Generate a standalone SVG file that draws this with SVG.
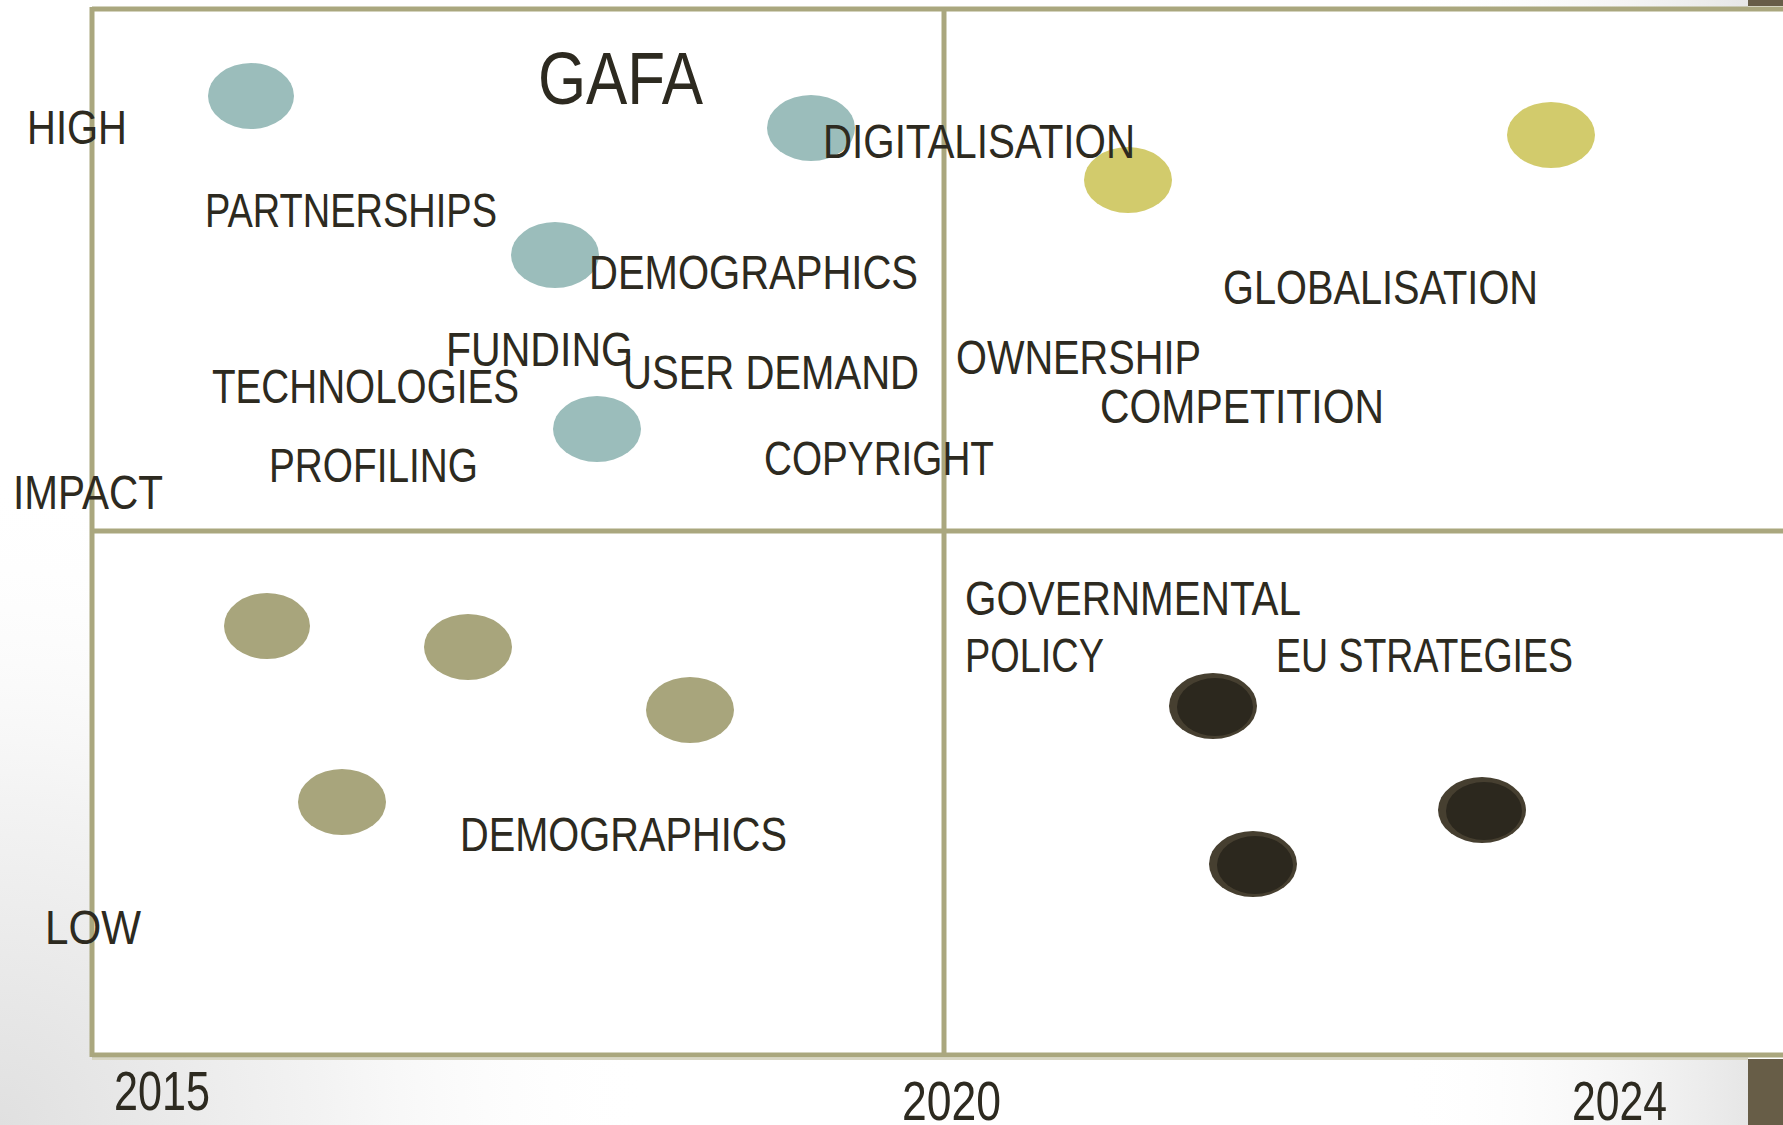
<svg xmlns="http://www.w3.org/2000/svg" width="1783" height="1125" viewBox="0 0 1783 1125">
  <defs>
    <radialGradient id="bgLeft" cx="0" cy="1125" r="650" gradientUnits="userSpaceOnUse">
      <stop offset="0" stop-color="#e0e0e0"/>
      <stop offset="0.5" stop-color="#f3f3f3"/>
      <stop offset="1" stop-color="#ffffff" stop-opacity="0"/>
    </radialGradient>
    <linearGradient id="bgRight" x1="1400" y1="0" x2="1748" y2="0" gradientUnits="userSpaceOnUse">
      <stop offset="0" stop-color="#ffffff" stop-opacity="0"/>
      <stop offset="1" stop-color="#e6e6e6"/>
    </linearGradient>
    <style>
      .lbl { font-family: "Liberation Sans", Arial, sans-serif; font-size: 48px; fill: #2d2a20; }
      .yr { font-family: "Liberation Sans", Arial, sans-serif; font-size: 56px; fill: #2d2a20; }
      .grid { stroke: #aaa77e; stroke-width: 5; fill: none; }
      .teal { fill: #9bbdbb; }
      .yel { fill: #d2cb6c; }
      .kha { fill: #a8a57c; }
      .dkO { fill: #463f30; }
      .dkI { fill: #2c281e; }
    </style>
  </defs>

  <g id="background">
    <rect x="0" y="0" width="1783" height="1125" fill="#ffffff"/>
    <rect x="0" y="0" width="1783" height="1125" fill="url(#bgLeft)"/>
    <rect x="1400" y="0" width="348" height="1125" fill="url(#bgRight)"/>
    <rect x="92" y="9" width="1691" height="1045" fill="#ffffff"/>
    <rect x="1748" y="0" width="35" height="6" fill="#675d47"/>
    <rect x="1748" y="1059" width="35" height="66" fill="#675d47"/>
  </g>

  <g id="grid">
    <line class="grid" x1="92" y1="9" x2="1783" y2="9"/>
    <line class="grid" x1="92" y1="7" x2="92" y2="1057"/>
    <line class="grid" x1="92" y1="1055" x2="1783" y2="1055"/>
    <line class="grid" x1="944" y1="9" x2="944" y2="1055"/>
    <line class="grid" x1="92" y1="531" x2="1783" y2="531"/>
    <line x1="92" y1="1059" x2="1748" y2="1059" stroke="#d8d6c4" stroke-width="2"/>
  </g>

  <g id="connectors"></g>

  <g id="dots">
    <g id="dot-teal-1"><ellipse class="teal" cx="251" cy="96" rx="43" ry="33"/></g>
    <g id="dot-teal-2"><ellipse class="teal" cx="811" cy="128" rx="44" ry="33"/></g>
    <g id="dot-teal-3"><ellipse class="teal" cx="555" cy="255" rx="44" ry="33"/></g>
    <g id="dot-teal-4"><ellipse class="teal" cx="597" cy="429" rx="44" ry="33"/></g>
    <g id="dot-yellow-1"><ellipse class="yel" cx="1128" cy="180" rx="44" ry="33"/></g>
    <g id="dot-yellow-2"><ellipse class="yel" cx="1551" cy="135" rx="44" ry="33"/></g>
    <g id="dot-khaki-1"><ellipse class="kha" cx="267" cy="626" rx="43" ry="33"/></g>
    <g id="dot-khaki-2"><ellipse class="kha" cx="468" cy="647" rx="44" ry="33"/></g>
    <g id="dot-khaki-3"><ellipse class="kha" cx="690" cy="710" rx="44" ry="33"/></g>
    <g id="dot-khaki-4"><ellipse class="kha" cx="342" cy="802" rx="44" ry="33"/></g>
    <g id="dot-dark-1"><ellipse class="dkO" cx="1213" cy="706" rx="44" ry="33"/><ellipse class="dkI" cx="1215" cy="707" rx="38" ry="29"/></g>
    <g id="dot-dark-2"><ellipse class="dkO" cx="1482" cy="810" rx="44" ry="33"/><ellipse class="dkI" cx="1484" cy="811" rx="38" ry="29"/></g>
    <g id="dot-dark-3"><ellipse class="dkO" cx="1253" cy="864" rx="44" ry="33"/><ellipse class="dkI" cx="1255" cy="865" rx="38" ry="29"/></g>
  </g>

  <g id="labels">
    <g id="lbl-gafa"><text x="538" y="104" font-family="Liberation Sans, Arial, sans-serif" font-size="75" fill="#2d2a20" textLength="165" lengthAdjust="spacingAndGlyphs">GAFA</text></g>
    <g id="lbl-high"><text class="lbl" x="27" y="144" textLength="100" lengthAdjust="spacingAndGlyphs">HIGH</text></g>
    <g id="lbl-partnerships"><text class="lbl" x="205" y="227" textLength="292" lengthAdjust="spacingAndGlyphs">PARTNERSHIPS</text></g>
    <g id="lbl-digitalisation"><text class="lbl" x="823" y="158" textLength="312" lengthAdjust="spacingAndGlyphs">DIGITALISATION</text></g>
    <g id="lbl-demographics-1"><text class="lbl" x="589" y="289" textLength="329" lengthAdjust="spacingAndGlyphs">DEMOGRAPHICS</text></g>
    <g id="lbl-globalisation"><text class="lbl" x="1223" y="304" textLength="315" lengthAdjust="spacingAndGlyphs">GLOBALISATION</text></g>
    <g id="lbl-funding"><text class="lbl" x="446" y="366" textLength="187" lengthAdjust="spacingAndGlyphs">FUNDING</text></g>
    <g id="lbl-technologies"><text class="lbl" x="212" y="403" textLength="307" lengthAdjust="spacingAndGlyphs">TECHNOLOGIES</text></g>
    <g id="lbl-user-demand"><text class="lbl" x="623" y="389" textLength="296" lengthAdjust="spacingAndGlyphs">USER DEMAND</text></g>
    <g id="lbl-ownership"><text class="lbl" x="956" y="374" textLength="245" lengthAdjust="spacingAndGlyphs">OWNERSHIP</text></g>
    <g id="lbl-competition"><text class="lbl" x="1100" y="423" textLength="284" lengthAdjust="spacingAndGlyphs">COMPETITION</text></g>
    <g id="lbl-profiling"><text class="lbl" x="269" y="482" textLength="209" lengthAdjust="spacingAndGlyphs">PROFILING</text></g>
    <g id="lbl-copyright"><text class="lbl" x="764" y="475" textLength="230" lengthAdjust="spacingAndGlyphs">COPYRIGHT</text></g>
    <g id="lbl-impact"><text class="lbl" x="13" y="509" textLength="150" lengthAdjust="spacingAndGlyphs">IMPACT</text></g>
    <g id="lbl-governmental-policy">
      <text class="lbl" x="965" y="615" textLength="336" lengthAdjust="spacingAndGlyphs">GOVERNMENTAL</text>
      <text class="lbl" x="965" y="672" textLength="139" lengthAdjust="spacingAndGlyphs">POLICY</text>
    </g>
    <g id="lbl-eu-strategies"><text class="lbl" x="1276" y="672" textLength="297" lengthAdjust="spacingAndGlyphs">EU STRATEGIES</text></g>
    <g id="lbl-demographics-2"><text class="lbl" x="460" y="851" textLength="327" lengthAdjust="spacingAndGlyphs">DEMOGRAPHICS</text></g>
    <g id="lbl-low"><text class="lbl" x="45" y="944" textLength="96" lengthAdjust="spacingAndGlyphs">LOW</text></g>
    <g id="lbl-2015"><text class="yr" x="114" y="1110" textLength="96" lengthAdjust="spacingAndGlyphs">2015</text></g>
    <g id="lbl-2020"><text class="yr" x="902" y="1120" textLength="99" lengthAdjust="spacingAndGlyphs">2020</text></g>
    <g id="lbl-2024"><text class="yr" x="1572" y="1120" textLength="95" lengthAdjust="spacingAndGlyphs">2024</text></g>
  </g>
</svg>
